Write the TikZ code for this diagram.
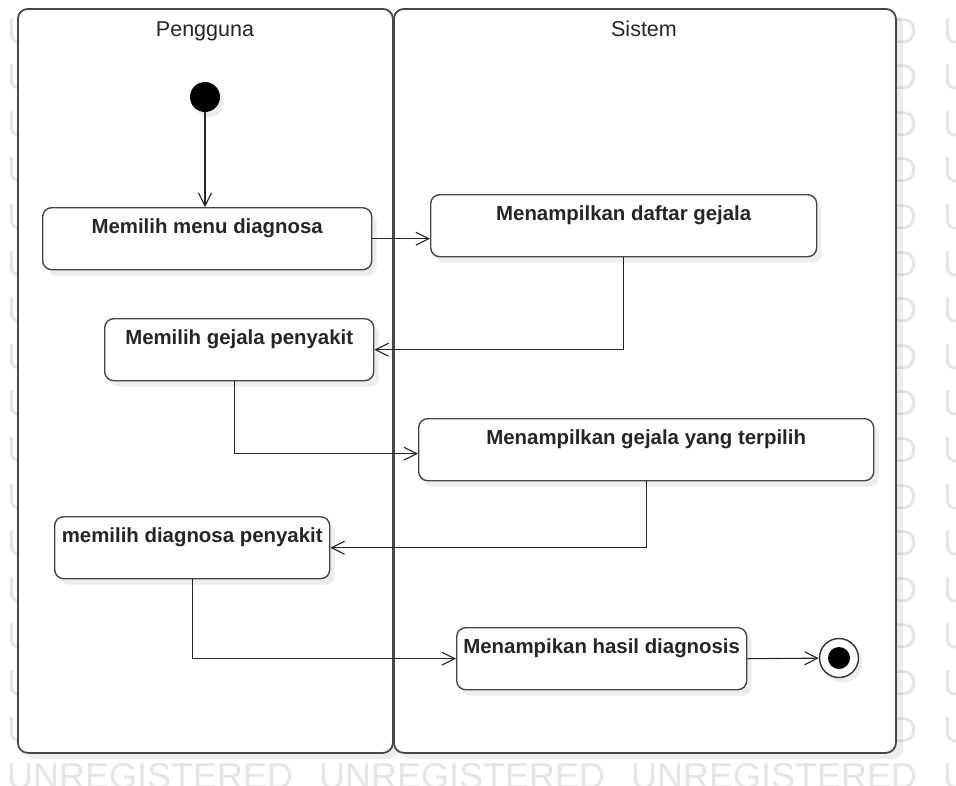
\documentclass[tikz,border=0pt]{standalone}
\usepackage{fontspec}
\setmainfont{Liberation Sans}
\usetikzlibrary{arrows.meta,shadows,calc}

\begin{document}
\begin{tikzpicture}[x=1pt,y=-1pt,
  wm/.style={text=black!10, font=\fontsize{36}{36}\selectfont, inner sep=0pt, anchor=base west},
  lane/.style={draw=black!72, line width=1.8pt, fill=white, rounded corners=10pt, anchor=north west,
    inner sep=0pt, drop shadow={shadow xshift=7pt, shadow yshift=-6pt, fill=black, opacity=0.07}},
  lanetitle/.style={font=\fontsize{21.5}{24}\selectfont, text=black!85, anchor=base, inner sep=0pt},
  act/.style={draw=black!72, line width=1.4pt, fill=white, rounded corners=9pt, anchor=north west,
    font=\bfseries\fontsize{20.4}{24}\selectfont, text=black!85,
    text height=15pt, text depth=25pt, inner ysep=11pt, inner xsep=2pt,
    drop shadow={shadow xshift=5pt, shadow yshift=-6pt, fill=black, opacity=0.07}},
  initial/.style={circle, fill=black, inner sep=0pt, minimum size=30pt,
    drop shadow={shadow xshift=4pt, shadow yshift=-5pt, fill=black, opacity=0.07}},
  final/.style={circle, draw=black!80, line width=1.4pt, fill=white, inner sep=0pt, minimum size=39pt,
    drop shadow={shadow xshift=4pt, shadow yshift=-5pt, fill=black, opacity=0.07}},
  flow/.style={draw=black!85, line width=1.1pt, -{Straight Barb[length=13pt,width=13pt,line width=1.1pt]}}
]
\useasboundingbox (0,0) rectangle (956,785);
\fill[white] (0,0) rectangle (956,785);

% watermark rows
\foreach \r in {0,...,16}{
  \foreach \c in {7,319,631,943}{
    \node[wm] at (\c, 43+46.6*\r) {UNREGISTERED};
  }
}

% swimlanes
\node[lane, minimum width=375pt, minimum height=744pt] (lane1) at (17,8) {};
\node[lane, minimum width=502pt, minimum height=744pt] (lane2) at (393,8) {};
\node[lanetitle] (t1) at (205,36) {Pengguna};
\node[lanetitle] (t2) at (644,36) {Sistem};

% activities
\node[initial] (start) at (205,97) {};
\node[act, minimum width=329pt] (a1) at (42,207) {Memilih menu diagnosa};
\node[act, minimum width=386pt] (a2) at (430,194) {Menampilkan daftar gejala};
\node[act, minimum width=269pt] (a3) at (104,318) {Memilih gejala penyakit};
\node[act, minimum width=455pt] (a4) at (418,418) {Menampilkan gejala yang terpilih};
\node[act, minimum width=275pt] (a5) at (54,516) {memilih diagnosa penyakit};
\node[act, minimum width=290pt] (a6) at (456,627) {Menampikan hasil diagnosis};
\node[final] (end) at (839,658) {};
\fill[black] (end.center) circle (11pt);

% control flow
\draw[flow] (start) -- (start |- a1.north);
\draw[flow] (a1.east) -- (a1.east -| a2.west);
\draw[flow] (a2.south) |- (a3.east);
\draw[flow] ($(a3.south)+(-5,0)$) |- ($(a4.west)+(0,4)$);
\draw[flow] (a4.south) |- (a5.east);
\draw[flow] (a5.south) |- (a6.west);
\draw[flow] (a6.east) -- (end);
\end{tikzpicture}
\end{document}
